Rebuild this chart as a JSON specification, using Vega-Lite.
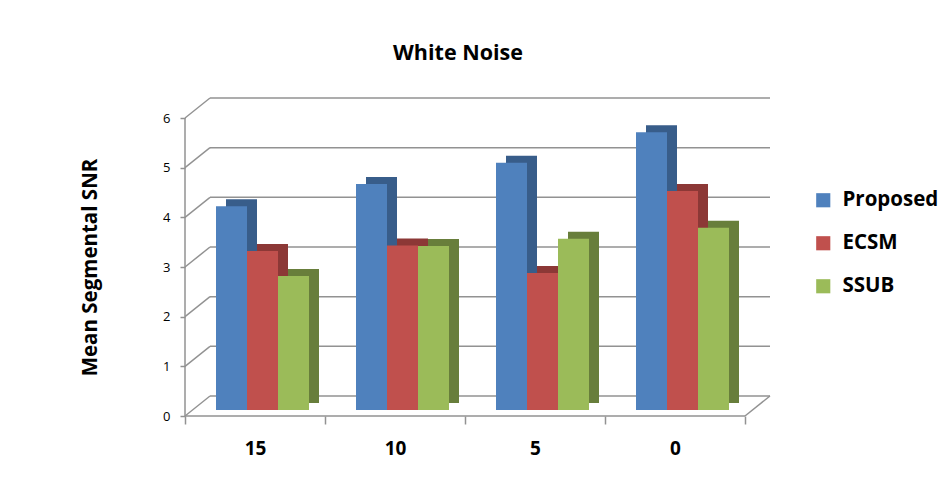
{
  "$schema": "https://vega.github.io/schema/vega-lite/v6.json",
  "autosize": {"type": "none"},
  "width": 560,
  "height": 298,
  "padding": {"left": 185, "top": 118, "right": 201, "bottom": 62},
  "background": "white",
  "title": {"text": "White Noise", "font": "Open Sans", "fontSize": 21.5, "fontWeight": "bold", "color": "#000000", "anchor": "middle", "offset": 33, "dx": -7},
  "config": {"view": {"stroke": null}},
  "datasets": {
    "bars": [
      {"snr": "15", "method": "Proposed", "value": 4.1},
      {"snr": "15", "method": "ECSM", "value": 3.2},
      {"snr": "15", "method": "SSUB", "value": 2.7},
      {"snr": "10", "method": "Proposed", "value": 4.55},
      {"snr": "10", "method": "ECSM", "value": 3.31},
      {"snr": "10", "method": "SSUB", "value": 3.3},
      {"snr": "5", "method": "Proposed", "value": 4.98},
      {"snr": "5", "method": "ECSM", "value": 2.76},
      {"snr": "5", "method": "SSUB", "value": 3.45},
      {"snr": "0", "method": "Proposed", "value": 5.59},
      {"snr": "0", "method": "ECSM", "value": 4.41},
      {"snr": "0", "method": "SSUB", "value": 3.67}
    ],
    "grid": [{"v": 0}, {"v": 1}, {"v": 2}, {"v": 3}, {"v": 4}, {"v": 5}, {"v": 6}]
  },
  "resolve": {"scale": {"x": "independent"}, "axis": {"x": "independent"}},
  "layer": [
    {
      "data": {"name": "grid"},
      "layer": [
        {
          "mark": {"type": "rule", "color": "#929292", "strokeWidth": 1.5, "xOffset": 25, "x2Offset": 25, "yOffset": -20},
          "encoding": {
            "x": {"datum": 0, "type": "quantitative", "scale": {"domain": [0, 1]}, "axis": null},
            "x2": {"datum": 1},
            "y": {"field": "v", "type": "quantitative", "scale": {"domain": [0, 6]},
              "axis": {"title": "Mean Segmental SNR", "titleFont": "Open Sans", "titleFontSize": 20.5, "titleFontWeight": "bold", "titleColor": "#000000", "titlePadding": 62, "values": [0, 1, 2, 3, 4, 5, 6], "grid": false, "domain": false, "labelFont": "Open Sans", "labelFontSize": 13, "labelColor": "#000000", "labelPadding": 10, "tickSize": 5, "tickColor": "#929292", "tickWidth": 1.5}}
          }
        },
        {
          "mark": {"type": "rule", "color": "#929292", "strokeWidth": 1.5, "x2Offset": 25, "y2Offset": -20},
          "encoding": {
            "x": {"datum": 0, "type": "quantitative"},
            "x2": {"datum": 0},
            "y": {"field": "v", "type": "quantitative"},
            "y2": {"field": "v"}
          }
        },
        {
          "transform": [{"filter": "datum.v == 0"}],
          "layer": [
            {
              "mark": {"type": "rule", "color": "#929292", "strokeWidth": 1.5, "x2Offset": 25, "y2Offset": -20},
              "encoding": {
                "x": {"datum": 1, "type": "quantitative"},
                "x2": {"datum": 1},
                "y": {"field": "v", "type": "quantitative"},
                "y2": {"field": "v"}
              }
            },
            {
              "mark": {"type": "rule", "color": "#929292", "strokeWidth": 1.5},
              "encoding": {
                "x": {"datum": 0, "type": "quantitative"},
                "x2": {"datum": 1},
                "y": {"field": "v", "type": "quantitative"}
              }
            },
            {
              "mark": {"type": "rule", "color": "#929292", "strokeWidth": 1.5},
              "encoding": {
                "x": {"datum": 0, "type": "quantitative"},
                "y": {"field": "v", "type": "quantitative"},
                "y2": {"datum": 6}
              }
            }
          ]
        }
      ]
    },
    {
      "data": {"name": "bars"},
      "resolve": {"scale": {"color": "independent", "xOffset": "independent"}},
      "layer": [
        {
          "mark": {"type": "bar", "yOffset": -13},
          "encoding": {
            "x": {"field": "snr", "type": "nominal", "sort": ["15", "10", "5", "0"], "scale": {"paddingInner": 0, "paddingOuter": 0},
              "axis": {"orient": "bottom", "title": null, "labelAngle": 0, "labelFont": "Open Sans", "labelFontSize": 19, "labelFontWeight": "bold", "labelColor": "#000000", "tickBand": "extent", "tickSize": 8, "tickColor": "#929292", "tickWidth": 1.5, "domain": false, "labelPadding": 15}},
            "xOffset": {"field": "method", "type": "nominal", "sort": ["Proposed", "ECSM", "SSUB"], "scale": {"range": [41, 134], "paddingInner": 0, "paddingOuter": 0}},
            "y": {"field": "value", "type": "quantitative"},
            "color": {"field": "method", "type": "nominal", "sort": ["Proposed", "ECSM", "SSUB"], "scale": {"domain": ["Proposed", "ECSM", "SSUB"], "range": ["#385D8A", "#8C3836", "#687E3B"]}, "legend": null}
          }
        },
        {
          "mark": {"type": "bar", "yOffset": -6},
          "encoding": {
            "x": {"field": "snr", "type": "nominal", "sort": ["15", "10", "5", "0"]},
            "xOffset": {"field": "method", "type": "nominal", "sort": ["Proposed", "ECSM", "SSUB"], "scale": {"range": [31, 124], "paddingInner": 0, "paddingOuter": 0}},
            "y": {"field": "value", "type": "quantitative"},
            "color": {"field": "method", "type": "nominal", "sort": ["Proposed", "ECSM", "SSUB"], "scale": {"domain": ["Proposed", "ECSM", "SSUB"], "range": ["#4F81BD", "#C0504D", "#9BBB59"]},
              "legend": {"title": null, "orient": "none", "legendX": 628, "legendY": 72, "symbolType": "square", "symbolSize": 200, "symbolStrokeWidth": 0, "labelFont": "Open Sans", "labelFontSize": 20.5, "labelFontWeight": "bold", "labelColor": "#000000", "rowPadding": 22, "labelOffset": 9}}
          }
        }
      ]
    }
  ]
}
